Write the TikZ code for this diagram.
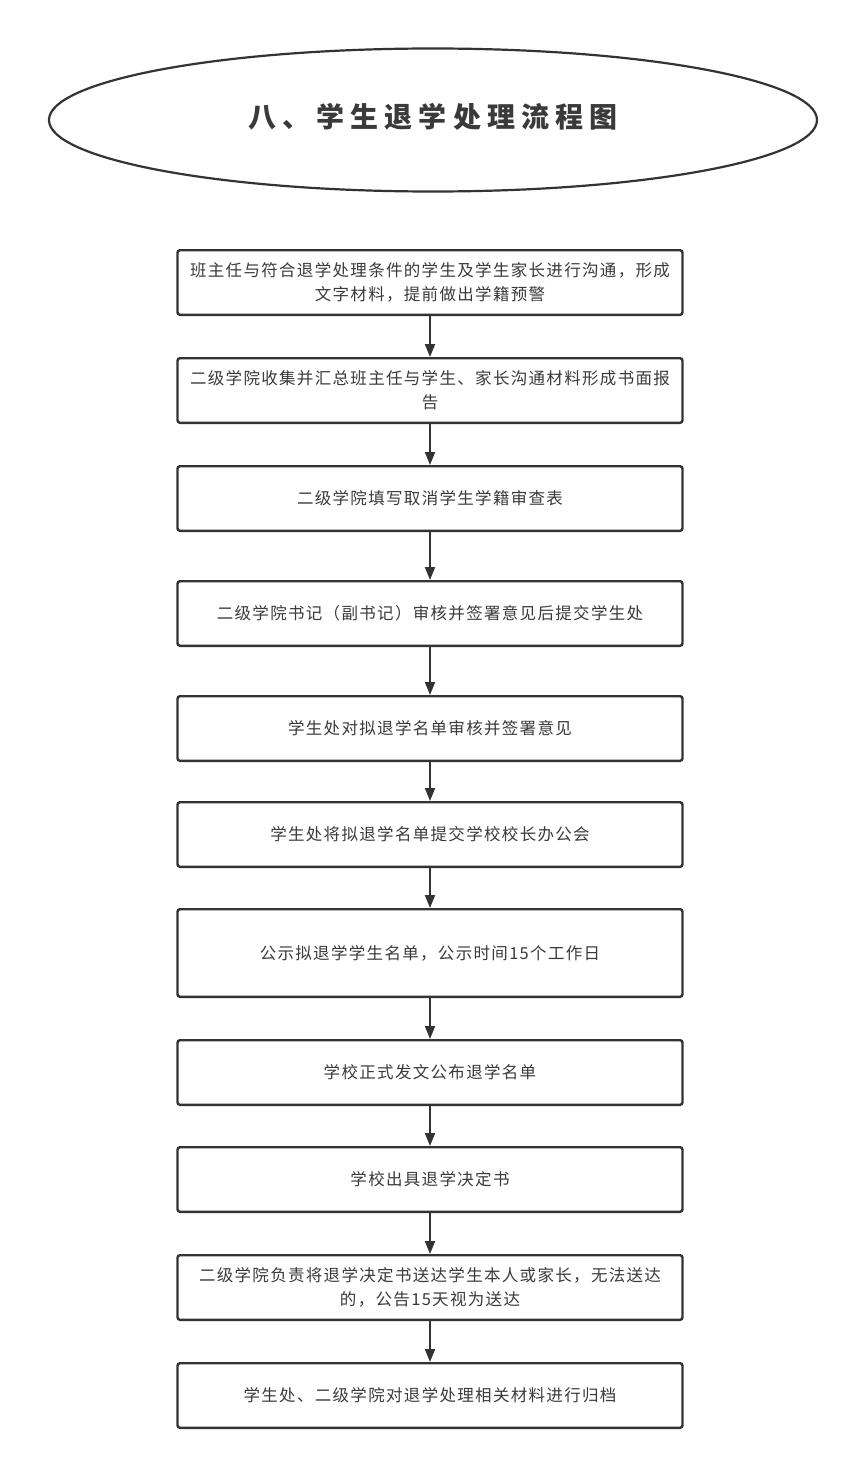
\documentclass[tikz,border=0pt]{standalone}
\usepackage{fontspec}
\usepackage{xcolor}
\usetikzlibrary{positioning,shapes.geometric,arrows.meta}
\newfontfamily\cjk{Noto Sans CJK SC}[LetterSpace=8]
\newfontfamily\cjktitle{Noto Sans CJK SC}[LetterSpace=22]
\definecolor{linegray}{HTML}{333333}
\definecolor{textgray}{HTML}{3A3A3A}
\tikzset{%
  procbox/.style={draw=linegray,line width=2.4pt,rounded corners=2.5pt,
    minimum width=505pt,minimum height=64.6pt,text width=496pt,align=center,
    inner sep=0pt,font=\cjk\fontsize{16.5pt}{24pt}\selectfont,text=textgray},
  tallbox/.style={procbox,minimum height=87.6pt},
  flow/.style={draw=linegray,line width=2pt,-{Triangle[length=13pt,width=10pt]}},
  titleoval/.style={ellipse,draw=linegray,line width=2.2pt,minimum width=768pt,
    minimum height=143pt,inner sep=0pt,
    font=\cjktitle\bfseries\fontsize{28pt}{32pt}\selectfont,text=textgray}
}
\begin{document}
\begin{tikzpicture}[x=1pt,y=1pt,node distance=41pt]
  \useasboundingbox (0,0) rectangle (849,-1461);
  \node[titleoval] (title) at (433,-120) {\raisebox{9pt}{八、学生退学处理流程图}};

  \node[procbox] (s1) at (430,-282.5)
    {班主任与符合退学处理条件的学生及学生家长进行沟通，形成\\文字材料，提前做出学籍预警};
  \node[procbox,below=of s1] (s2)
    {二级学院收集并汇总班主任与学生、家长沟通材料形成书面报\\告};
  \node[procbox,below=of s2] (s3) {二级学院填写取消学生学籍审查表};
  \node[procbox,below=48pt of s3] (s4) {二级学院书记（副书记）审核并签署意见后提交学生处};
  \node[procbox,below=48pt of s4] (s5) {学生处对拟退学名单审核并签署意见};
  \node[procbox,below=39pt of s5] (s6) {学生处将拟退学名单提交学校校长办公会};
  \node[tallbox,below=40pt of s6] (s7) {公示拟退学学生名单，公示时间15个工作日};
  \node[procbox,below=of s7] (s8) {学校正式发文公布退学名单};
  \node[procbox,below=40pt of s8] (s9) {学校出具退学决定书};
  \node[procbox,below=of s9] (s10)
    {二级学院负责将退学决定书送达学生本人或家长，无法送达\\的，公告15天视为送达};
  \node[procbox,below=of s10] (s11) {学生处、二级学院对退学处理相关材料进行归档};

  \foreach \a/\b in {s1/s2,s2/s3,s3/s4,s4/s5,s5/s6,s6/s7,s7/s8,s8/s9,s9/s10,s10/s11}
    \draw[flow] (\a.south) -- (\b.north);
\end{tikzpicture}
\end{document}
